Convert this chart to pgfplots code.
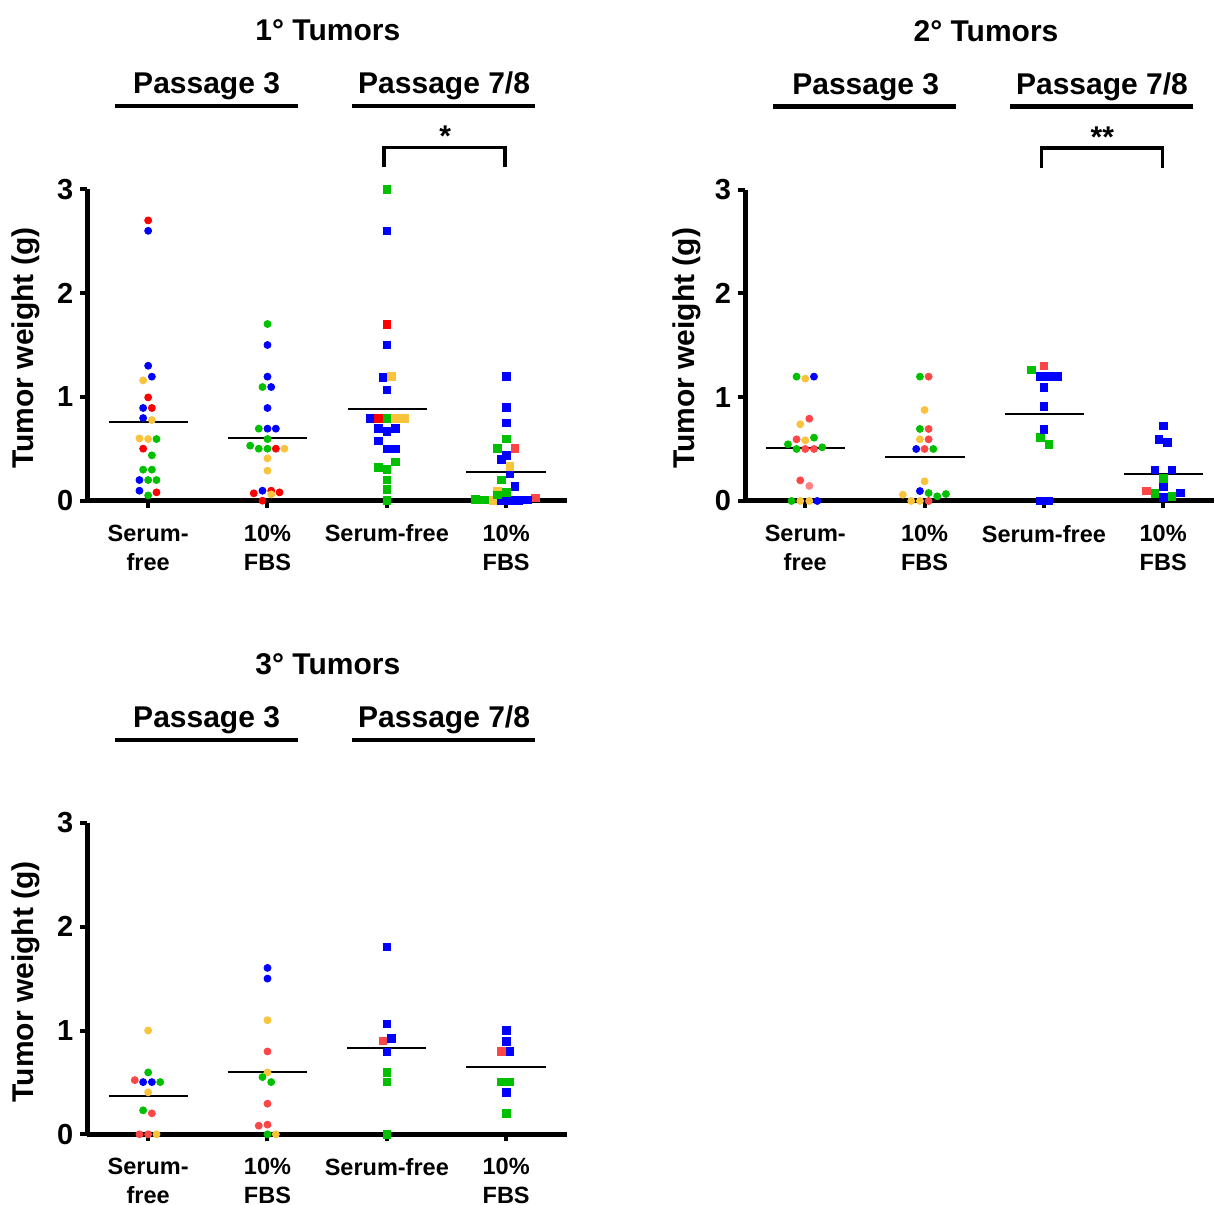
\documentclass[border=0pt]{standalone}
\usepackage{pgfplots}
\pgfplotsset{compat=1.18}
\usepackage{fontspec}
\setmainfont{Liberation Sans}
\definecolor{cR}{RGB}{255,0,0}
\definecolor{cR2}{RGB}{255,70,70}
\definecolor{cPk}{RGB}{255,130,130}
\definecolor{cB}{RGB}{0,0,255}
\definecolor{cG}{RGB}{0,192,0}
\definecolor{cY}{RGB}{250,195,60}
\tikzset{ttl/.style={anchor=base, font=\fontsize{15}{15}\selectfont\bfseries}}
\pgfplotsset{
 panel/.style={
  scale only axis, height=155.7pt,
  ymin=0, ymax=3,
  axis x line=bottom, axis y line=left,
  axis line style={-, line width=2.5pt, black},
  xtick={0,1,2,3}, ytick={0,1,2,3},
  xticklabels={{Serum-\\free},{10\%\\FBS},{Serum-free},{10\%\\FBS}},
  tick align=outside,
  major tick length=3.5pt,
  tick style={black, line width=2pt},
  xticklabel style={align=center, font=\fontsize{11.75}{14.6}\selectfont\bfseries, yshift=-5pt},
  yticklabel style={font=\fontsize{14.5}{14.5}\selectfont\bfseries},
  /pgf/number format/assume math mode=true,
  ylabel={Tumor weight (g)},
  ylabel style={font=\fontsize{15}{15}\selectfont\bfseries, anchor=center},
  clip=false,
 },
 dot/.style={only marks, color=#1, mark=*, mark size=1.75pt},
 sqr/.style={only marks, color=#1, mark=square*, mark size=1.9pt},
 mean/.style={black, line width=0.9pt, mark=none},
}
\begin{document}
\begin{tikzpicture}
\useasboundingbox (0,0) rectangle (607pt,602pt);
% ---------------- Panel 1 ----------------
\begin{axis}[panel, at={(43.65pt,351.65pt)}, anchor=south west, width=239.85pt,
  xmin=-0.51, xmax=3.51,
  ylabel style={at={(axis description cs:-0.128,0.49)}}]
\addplot[dot=cR] coordinates {(0,2.70) (0.031,0.893) (0,0.995) (-0.042,0.501) (0.070,0.080)
  (1.070,0.501) (1.031,0.096) (0.885,0.071) (1.101,0.080) (0.958,0.0)};
\addplot[dot=cB] coordinates {(0,2.60) (0,1.30) (0.031,1.195) (-0.042,0.893) (-0.042,0.796) (-0.073,0.199) (-0.073,0.096)
  (1,1.50) (1,1.195) (1.031,1.095) (1,0.893) (1,0.694) (1.070,0.694) (0.958,0.096)};
\addplot[dot=cY] coordinates {(-0.042,1.159) (0.031,0.777) (-0.073,0.600) (0,0.594)
  (1.142,0.501) (1,0.408) (1,0.289) (1.031,0.061)};
\addplot[dot=cG] coordinates {(0.070,0.594) (0.031,0.437) (-0.042,0.299) (0.031,0.299) (0,0.199) (0.070,0.199) (0,0.051)
  (1,1.702) (0.958,1.095) (0.927,0.694) (1,0.594) (0.855,0.530) (0.927,0.501) (1,0.501)};
\addplot[sqr=cR] coordinates {(2,1.70) (1.927,0.793)};
\addplot[sqr=cR2] coordinates {(3.073,0.501) (3.246,0.026)};
\addplot[sqr=cB] coordinates {(2,2.60) (2,1.50) (1.966,1.188) (2,1.069) (1.858,0.793) (1.927,0.694) (2,0.665) (2.073,0.694) (1.927,0.575) (2,0.498) (2.073,0.498)
  (3,1.198) (3,0.896) (3,0.748) (3,0.437) (2.961,0.398) (3.031,0.263) (3.073,0.135) (2.961,0) (3.031,0) (3.103,0) (3.176,0.006)};
\addplot[sqr=cY] coordinates {(2.039,1.198) (2.073,0.793) (2.145,0.793) (3.031,0.328) (2.927,0.096) (2.888,0)};
\addplot[sqr=cG] coordinates {(2,3.0) (2,0.793) (2.073,0.373) (1.927,0.318) (2,0.299) (2,0.199) (2,0.106) (2,0)
  (3,0.594) (2.927,0.501) (2.961,0.199) (3,0.077) (2.927,0.055) (2.743,0.013) (2.816,0.006)};
\addplot[mean] coordinates {(-0.33,0.761) (0.33,0.761)};
\addplot[mean] coordinates {(0.67,0.607) (1.335,0.607)};
\addplot[mean] coordinates {(1.673,0.880) (2.338,0.880)};
\addplot[mean] coordinates {(2.665,0.276) (3.33,0.276)};
\draw[line width=1.7pt] (axis cs:1.976,3.21) -- (axis cs:1.976,3.40) -- (axis cs:2.99,3.40) -- (axis cs:2.99,3.21);
\node[ttl] at (axis cs:2.49,3.41) {*};
\node[ttl] at (axis cs:1.506,4.43) {1° Tumors};
\node[ttl] at (axis cs:0.49,3.92) {Passage 3};
\node[ttl] at (axis cs:2.48,3.92) {Passage 7/8};
\draw[line width=2.2pt] (axis cs:-0.28,3.80) -- (axis cs:1.255,3.80);
\draw[line width=2.2pt] (axis cs:1.707,3.80) -- (axis cs:3.24,3.80);
\end{axis}
% ---------------- Panel 2 ----------------
\begin{axis}[panel, at={(372.5pt,351.5pt)}, anchor=south west, width=234.5pt,
  xmin=-0.505, xmax=3.426,
  ylabel style={at={(axis description cs:-0.124,0.49)}}]
\addplot[dot=cG] coordinates {(-0.073,1.198) (0.073,0.610) (-0.145,0.546) (-0.073,0.501) (0.142,0.517) (-0.115,0)
  (0.961,1.198) (0.961,0.694) (1.073,0.501) (1.034,0.077) (1.106,0.045) (1.179,0.067)};
\addplot[dot=cY] coordinates {(0,1.179) (-0.042,0.739) (0,0.584) (-0.042,0) (0.034,0)
  (1,0.877) (0.961,0.594) (1,0.189) (0.818,0.061) (0.888,0) (0.961,0)};
\addplot[dot=cB] coordinates {(0.073,1.198) (0.101,0) (0.930,0.501) (0.961,0.096)};
\addplot[dot=cR2] coordinates {(0.034,0.793) (-0.073,0.594) (0,0.501) (0.073,0.501) (-0.042,0.199)
  (1.034,1.198) (1.034,0.694) (1.034,0.594) (1,0.501) (1.034,0)};
\addplot[dot=cPk] coordinates {(0.034,0.145)};
\addplot[sqr=cR2] coordinates {(2,1.30) (2.858,0.096)};
\addplot[sqr=cG] coordinates {(1.897,1.262) (1.969,0.610) (2.042,0.546) (3,0.215) (2.930,0.071) (3.073,0.045)};
\addplot[sqr=cB] coordinates {(1.969,1.198) (2.042,1.198) (2.112,1.198) (2,1.095) (2,0.912) (2,0.690) (1.969,0) (2.042,0)
  (3,0.723) (2.964,0.591) (3.034,0.565) (2.930,0.299) (3.073,0.299) (3,0.135) (3.145,0.077) (3,0.035)};
\addplot[mean] coordinates {(-0.332,0.514) (0.33,0.514)};
\addplot[mean] coordinates {(0.668,0.424) (1.338,0.424)};
\addplot[mean] coordinates {(1.676,0.835) (2.338,0.835)};
\addplot[mean] coordinates {(2.67,0.263) (3.332,0.263)};
\draw[line width=1.7pt] (axis cs:1.98,3.21) -- (axis cs:1.98,3.40) -- (axis cs:2.995,3.40) -- (axis cs:2.995,3.21);
\node[ttl] at (axis cs:2.49,3.41) {**};
\node[ttl] at (axis cs:1.515,4.43) {2° Tumors};
\node[ttl] at (axis cs:0.507,3.92) {Passage 3};
\node[ttl] at (axis cs:2.487,3.92) {Passage 7/8};
\draw[line width=2.2pt] (axis cs:-0.272,3.80) -- (axis cs:1.262,3.80);
\draw[line width=2.2pt] (axis cs:1.716,3.80) -- (axis cs:3.25,3.80);
\end{axis}
% ---------------- Panel 3 ----------------
\begin{axis}[panel, at={(43.65pt,34.85pt)}, anchor=south west, width=239.85pt,
  xmin=-0.51, xmax=3.51,
  ylabel style={at={(axis description cs:-0.128,0.49)}}]
\addplot[dot=cY] coordinates {(0,1.0) (0,0.404) (0.070,0) (1,1.099) (1,0.596) (1.070,0)};
\addplot[dot=cG] coordinates {(0,0.596) (0.101,0.503) (-0.042,0.231) (0.958,0.551) (1.031,0.503) (1,0)};
\addplot[dot=cR2] coordinates {(-0.112,0.522) (0.031,0.202) (-0.073,0) (0,0)
  (1,0.798) (1,0.295) (0.927,0.083) (1,0.093)};
\addplot[dot=cB] coordinates {(-0.042,0.503) (0.031,0.503) (1,1.603) (1,1.50)};
\addplot[sqr=cB] coordinates {(2,1.804) (2,1.064) (2.039,0.926) (2,0.795) (3,1.0) (3,0.897) (3.031,0.798) (3,0.404)};
\addplot[sqr=cR2] coordinates {(1.966,0.901) (2.958,0.798)};
\addplot[sqr=cG] coordinates {(2,0.596) (2,0.503) (2,0) (2.958,0.503) (3.031,0.503) (3,0.202)};
\addplot[mean] coordinates {(-0.33,0.372) (0.33,0.372)};
\addplot[mean] coordinates {(0.665,0.599) (1.335,0.599)};
\addplot[mean] coordinates {(1.665,0.830) (2.33,0.830)};
\addplot[mean] coordinates {(2.665,0.647) (3.333,0.647)};
\node[ttl] at (axis cs:1.506,4.43) {3° Tumors};
\node[ttl] at (axis cs:0.49,3.92) {Passage 3};
\node[ttl] at (axis cs:2.48,3.92) {Passage 7/8};
\draw[line width=2.2pt] (axis cs:-0.28,3.80) -- (axis cs:1.255,3.80);
\draw[line width=2.2pt] (axis cs:1.707,3.80) -- (axis cs:3.24,3.80);
\end{axis}
\end{tikzpicture}
\end{document}
